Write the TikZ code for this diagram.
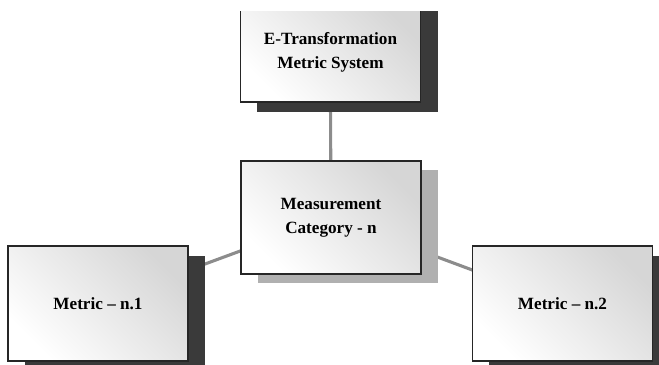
\documentclass[tikz,border=0pt]{standalone}
\usepackage{fontspec}
\setmainfont{Liberation Serif}
\usepackage{xcolor}
\usepackage{tikz}
\usetikzlibrary{shadows}
\usetikzlibrary{backgrounds}

\definecolor{shadowdark}{HTML}{3A3A3A}
\definecolor{shadowlight}{HTML}{B0B0B0}
\definecolor{linkgray}{HTML}{8C8C8C}

\begin{document}
\begin{tikzpicture}[x=0.025cm, y=-0.025cm,
    metricbox/.style={rectangle, draw=black!85, line width=0.9pt,
      top color=black!16, bottom color=white, shading angle=-45,
      minimum width=4.5cm, align=center,
      font=\bfseries\fontsize{12.2}{16.8}\selectfont},
    darkshadow/.style={drop shadow={shadow xshift=0.425cm,
      shadow yshift=-0.25cm, fill=shadowdark, opacity=1}},
    lightshadow/.style={drop shadow={shadow xshift=0.425cm,
      shadow yshift=-0.225cm, fill=shadowlight, opacity=1}},
    link/.style={draw=linkgray, line width=2.2pt}]

    \useasboundingbox (0, 0) rectangle (659, 364);

    % the top box is cut off by the page edge
    \begin{scope}
      \clip (0, 11) rectangle (659, 364);
      \node [metricbox, darkshadow, minimum height=2.525cm] (system)
        at (330.5, 51.5) {\raisebox{-2.4pt}{\begin{tabular}{@{}c@{}}
          E-Transformation\\Metric System\end{tabular}}};
    \end{scope}
    \node [metricbox, lightshadow, minimum height=2.825cm] (category)
      at (331, 217.5) {Measurement\\Category - n};
    \node [metricbox, darkshadow, minimum height=2.875cm] (metric1)
      at (98, 303.5) {Metric -- n.1};
    \node [metricbox, darkshadow, minimum height=2.875cm] (metric2)
      at (562.5, 303.5) {Metric -- n.2};

    \begin{scope}[on background layer]
      \draw [link] (system.south) -- (category.center);
      \draw [link] (category.center) -- (metric1.center);
      \draw [link] (category.center) -- (metric2.center);
    \end{scope}

\end{tikzpicture}
\end{document}
